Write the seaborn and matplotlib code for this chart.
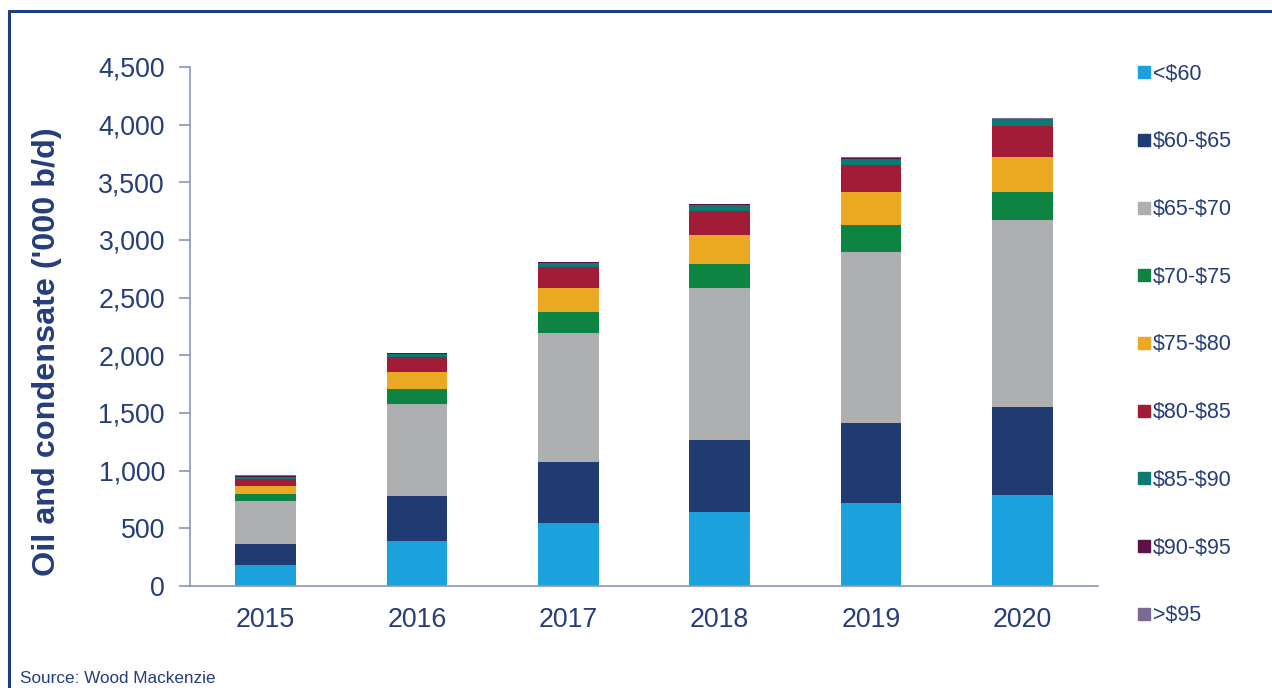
import matplotlib.pyplot as plt
import pandas as pd
import seaborn as sns
from matplotlib.lines import Line2D
from matplotlib.ticker import FuncFormatter, FixedLocator

years = ['2015', '2016', '2017', '2018', '2019', '2020']
bands = ['<$60', '$60-$65', '$65-$70', '$70-$75', '$75-$80',
         '$80-$85', '$85-$90', '$90-$95', '>$95']

# '000 b/d per breakeven band, one list per band (2015..2020)
lt60 = [180, 390, 546, 642, 720, 789]
b60_65 = [185, 393, 529, 624, 693, 763]
b65_70 = [372, 798, 1119, 1318, 1483, 1622]
b70_75 = [63, 124, 182, 208, 232, 242]
b75_80 = [67, 151, 208, 251, 286, 304]
b80_85 = [61, 127, 179, 211, 239, 271]
b85_90 = [20, 29, 38, 47, 52, 56]
b90_95 = [8, 7, 8, 7, 8, 5]
gt95 = [6, 4, 3, 4, 4, 3]

series = [lt60, b60_65, b65_70, b70_75, b75_80, b80_85, b85_90, b90_95, gt95]
colors = ['#1ba1db', '#203a72', '#aeafb1', '#0e8442', '#eaa823',
          '#a21c38', '#0b7a72', '#5c1249', '#7a6a93']

NAVY = '#263d7a'
AXC = '#8a95b8'


def main():
    sns.set_style('white')
    plt.rcParams['font.family'] = ['Liberation Sans', 'DejaVu Sans']
    plt.rcParams['text.parse_math'] = False

    fig = plt.figure(figsize=(12.72, 6.88), dpi=100)
    ax = fig.add_axes([190 / 1272, 1 - 586 / 688, (1098 - 190) / 1272, (586 - 67) / 688])

    bottom = [0] * len(years)
    for band, vals, c in zip(bands, series, colors):
        df = pd.DataFrame({'year': years, 'value': vals})
        sns.barplot(data=df, x='year', y='value', color=c, saturation=1,
                    width=0.4, bottom=bottom, ax=ax, linewidth=0)
        bottom = [b + v for b, v in zip(bottom, vals)]

    ax.set_xlim(-0.5, 5.5)
    ax.set_ylim(0, 4500)
    ax.set_yticks(range(0, 4501, 500))
    ax.yaxis.set_major_formatter(FuncFormatter(lambda v, p: f'{int(v):,}'))
    ax.xaxis.set_minor_locator(FixedLocator([i - 0.5 for i in range(7)]))
    ax.tick_params(axis='x', which='major', length=0, pad=15, labelsize=19.3, labelcolor=NAVY)
    ax.tick_params(axis='x', which='minor', length=8, width=1.2, color=AXC, direction='out')
    ax.tick_params(axis='y', length=8, width=1.2, color=AXC, direction='out',
                   left=True, pad=10, labelsize=19.3, labelcolor=NAVY)
    ax.set_xlabel('')
    ax.set_ylabel("Oil and condensate ('000 b/d)", fontsize=23.3, fontweight='bold',
                  color=NAVY, va='center')
    ax.yaxis.set_label_coords((47 - 190) / 908, (586 - 352) / 519)
    for s in ['top', 'right']:
        ax.spines[s].set_visible(False)
    for s in ['left', 'bottom']:
        ax.spines[s].set_color(AXC)
        ax.spines[s].set_linewidth(1.2)

    handles = [Line2D([], [], marker='s', linestyle='none', markersize=8,
                      markerfacecolor=c, markeredgecolor=c) for c in colors]
    fig.legend(handles, bands, loc='upper left', bbox_to_anchor=(1130 / 1272, 1 - 55 / 688),
               frameon=False, fontsize=15.5, labelcolor=NAVY, labelspacing=2.17,
               handlelength=0.5, handletextpad=0.15, borderaxespad=0)

    fig.text(20 / 1272, 1 - 683 / 688, 'Source: Wood Mackenzie', fontsize=12.3,
             color=NAVY, va='baseline')

    # frame around the chart
    fig.add_artist(Line2D([9 / 1272, 9 / 1272], [0, 1 - 11 / 688], color='#1f3c7e',
                          linewidth=2.2, transform=fig.transFigure))
    fig.add_artist(Line2D([9 / 1272, 1], [1 - 11 / 688, 1 - 11 / 688], color='#1f3c7e',
                          linewidth=2.2, transform=fig.transFigure))

    fig.savefig('out.png', dpi=100)


if __name__ == "__main__":
    main()
